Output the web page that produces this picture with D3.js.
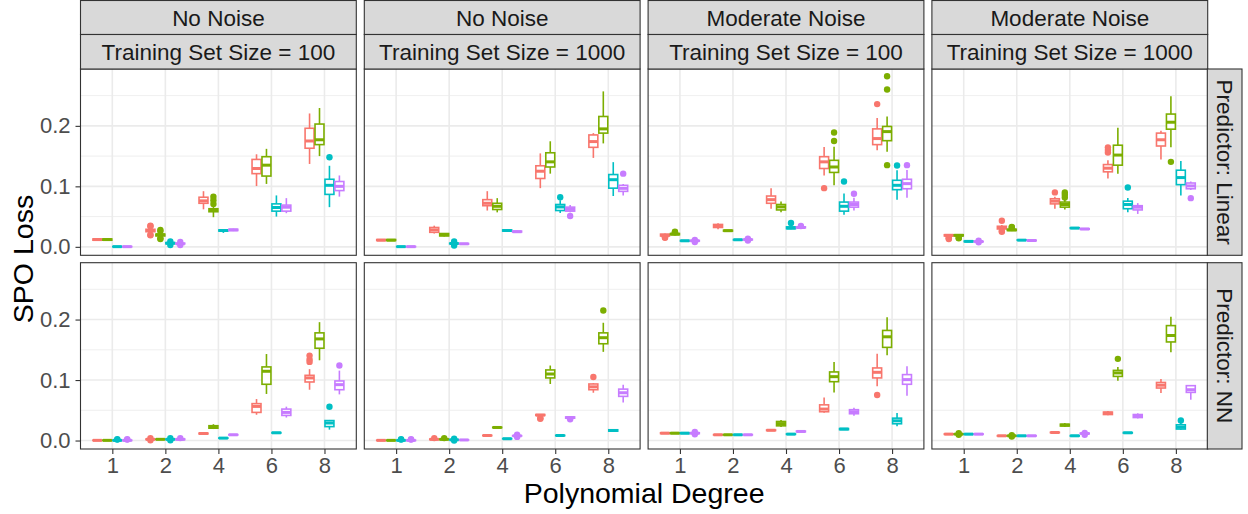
<!DOCTYPE html>
<html><head><meta charset="utf-8">
<script src="https://cdn.jsdelivr.net/npm/d3@7"></script>
<style>body{margin:0;background:#fff} text{font-family:"Liberation Sans",Arial,sans-serif}</style>
</head><body><svg id="c" width="1248" height="514"></svg>
<script>
// ---- data ----
const degrees = ["1", "2", "4", "6", "8"];
const methods = ["Method A", "Method B", "Method C", "Method D"];
const methodColors = ["#F8766D", "#7CAE00", "#00BFC4", "#C77CFF"];
const noiseLabels = ["No Noise", "No Noise", "Moderate Noise", "Moderate Noise"];
const sizeLabels = ["Training Set Size = 100", "Training Set Size = 1000", "Training Set Size = 100", "Training Set Size = 1000"];
const predictorLabels = ["Predictor: Linear", "Predictor: NN"];
const yTicks = [0, 0.1, 0.2];
const yMinorTicks = [0.05, 0.15, 0.25];
// each box: [lowerWhisker, q1, median, q3, upperWhisker, outliers]
const linearNoNoise100 = [
  [[0.011,0.011,0.012,0.013,0.013,[]],[0.011,0.011,0.012,0.013,0.013,[]],[0,0,0.0003,0.0006,0.001,[]],[0,0,0.0003,0.0006,0.001,[]]],
  [[0.022,0.025,0.027,0.029,0.032,[0.035,0.034,0.019,0.02]],[0.016,0.018,0.02,0.021,0.024,[0.028,0.026,0.013,0.014]],[0.004,0.005,0.006,0.007,0.008,[0.009,0.003]],[0.004,0.005,0.005,0.006,0.007,[0.008,0.003]]],
  [[0.062,0.072,0.076,0.082,0.092,[]],[0.049,0.058,0.061,0.063,0.067,[0.083,0.077,0.071]],[0.023,0.026,0.027,0.028,0.029,[]],[0.026,0.027,0.028,0.029,0.030,[]]],
  [[0.1005,0.121,0.1295,0.1445,0.153,[]],[0.104,0.117,0.135,0.149,0.162,[]],[0.05,0.059,0.065,0.071,0.085,[]],[0.0556,0.059,0.0655,0.069,0.0805,[]]],
  [[0.137,0.163,0.175,0.196,0.2205,[]],[0.15,0.169,0.177,0.203,0.2295,[]],[0.0656,0.0867,0.1017,0.1117,0.134,[0.148]],[0.083,0.093,0.1,0.108,0.118,[]]]
];
const linearNoNoise1000 = [
  [[0.0105,0.0105,0.011,0.012,0.012,[]],[0.0105,0.0105,0.011,0.012,0.012,[]],[0,0,0.0003,0.0006,0.001,[]],[0,0,0.0003,0.0006,0.001,[]]],
  [[0.022,0.024,0.028,0.032,0.035,[]],[0.017,0.018,0.02,0.022,0.023,[]],[0.004,0.005,0.0055,0.006,0.007,[0.009,0.002]],[0.004,0.0045,0.005,0.0055,0.006,[]]],
  [[0.06,0.068,0.072,0.078,0.092,[]],[0.057,0.0617,0.067,0.072,0.0805,[]],[0.025,0.026,0.027,0.028,0.029,[]],[0.024,0.0245,0.025,0.026,0.0265,[]]],
  [[0.097,0.113,0.125,0.134,0.1545,[]],[0.121,0.132,0.1405,0.1555,0.1745,[]],[0.056,0.06,0.066,0.07,0.077,[0.082]],[0.057,0.059,0.062,0.0656,0.069,[0.051]]],
  [[0.147,0.1645,0.174,0.185,0.188,[]],[0.171,0.188,0.195,0.2155,0.257,[]],[0.084,0.097,0.111,0.1195,0.14,[]],[0.085,0.0917,0.0967,0.1017,0.104,[0.121]]]
];
const linearModerate100 = [
  [[0.017,0.018,0.019,0.021,0.022,[0.015,0.016]],[0.019,0.02,0.021,0.022,0.023,[0.024,0.025]],[0.009,0.0095,0.01,0.0105,0.011,[]],[0.009,0.0095,0.01,0.0105,0.011,[0.0115,0.008]]],
  [[0.029,0.032,0.0345,0.037,0.039,[]],[0.025,0.026,0.0267,0.0275,0.028,[]],[0.011,0.0113,0.0117,0.012,0.0123,[]],[0.011,0.0115,0.012,0.0125,0.013,[0.0135,0.0105]]],
  [[0.063,0.072,0.078,0.084,0.0967,[]],[0.057,0.061,0.066,0.07,0.075,[]],[0.029,0.03,0.031,0.033,0.034,[0.0395]],[0.031,0.0315,0.032,0.033,0.0335,[0.0345]]],
  [[0.118,0.1295,0.1405,0.149,0.165,[0.097]],[0.102,0.123,0.132,0.143,0.1655,[0.189,0.175]],[0.053,0.059,0.067,0.074,0.088,[0.108]],[0.06,0.0656,0.07,0.074,0.081,[0.0877]]],
  [[0.1595,0.169,0.179,0.195,0.213,[0.236]],[0.157,0.1755,0.1905,0.199,0.2155,[0.282,0.26,0.135]],[0.078,0.0945,0.1017,0.11,0.1267,[0.1345]],[0.081,0.096,0.1045,0.1117,0.127,[0.135]]]
];
const linearModerate1000 = [
  [[0.017,0.018,0.019,0.02,0.021,[0.014,0.013,0.015]],[0.017,0.018,0.019,0.02,0.021,[0.015,0.014]],[0.008,0.0085,0.009,0.0095,0.01,[]],[0.008,0.0083,0.0087,0.009,0.0095,[0.0075,0.01]]],
  [[0.028,0.0295,0.032,0.034,0.036,[0.043,0.026,0.025]],[0.026,0.027,0.028,0.029,0.03,[0.032,0.033]],[0.0105,0.011,0.011,0.0115,0.012,[]],[0.0095,0.01,0.0105,0.011,0.0115,[]]],
  [[0.063,0.071,0.0755,0.0795,0.083,[0.09]],[0.0617,0.0656,0.07,0.074,0.078,[0.09,0.086,0.0815]],[0.03,0.0305,0.031,0.0315,0.032,[]],[0.028,0.029,0.0295,0.03,0.031,[]]],
  [[0.113,0.124,0.13,0.136,0.143,[0.1645,0.16,0.156]],[0.121,0.135,0.1517,0.168,0.197,[]],[0.057,0.063,0.07,0.0755,0.0806,[0.098]],[0.0544,0.061,0.0655,0.068,0.0723,[]]],
  [[0.1445,0.1667,0.177,0.188,0.192,[]],[0.1645,0.1945,0.206,0.2195,0.249,[0.1405]],[0.085,0.1028,0.1145,0.1267,0.142,[]],[0.094,0.096,0.1007,0.1055,0.108,[0.0805]]]
];
const nnNoNoise100 = [
  [[0,0,0.0003,0.0006,0.001,[]],[0,0,0.0003,0.0006,0.001,[]],[0,0,0.0003,0.0006,0.001,[0.0015,0.002]],[0,0,0.0003,0.0006,0.001,[0.0015,0.002]]],
  [[0.001,0.0015,0.002,0.0025,0.003,[0.004,0.0005]],[0.0015,0.0018,0.002,0.0022,0.0025,[]],[0.001,0.0015,0.002,0.0025,0.003,[0.004,0.0005]],[0.001,0.0015,0.002,0.0025,0.003,[0.004]]],
  [[0.0105,0.011,0.0116,0.0122,0.0128,[]],[0.019,0.0204,0.022,0.0245,0.027,[]],[0.0035,0.0038,0.004,0.0043,0.0046,[]],[0.0088,0.0092,0.0095,0.0098,0.0102,[]]],
  [[0.0426,0.0465,0.0564,0.061,0.0686,[]],[0.077,0.093,0.1145,0.1217,0.143,[]],[0.012,0.0124,0.0128,0.0132,0.0136,[]],[0.038,0.0415,0.0465,0.052,0.056,[]]],
  [[0.084,0.0968,0.1035,0.1078,0.118,[0.1404,0.134,0.13]],[0.1327,0.1526,0.168,0.178,0.1957,[]],[0.018,0.023,0.029,0.033,0.034,[0.0559]],[0.0763,0.084,0.0924,0.0985,0.1156,[0.124]]]
];
const nnNoNoise1000 = [
  [[0,0,0.0003,0.0006,0.001,[]],[0,0,0.0003,0.0006,0.001,[]],[0,0,0.0003,0.0006,0.001,[0.0015,0.002]],[0,0,0.0003,0.0006,0.001,[0.0015,0.002]]],
  [[0.001,0.0015,0.002,0.0025,0.003,[0.004]],[0.001,0.0015,0.002,0.0025,0.003,[0.004]],[0.0005,0.001,0.0012,0.0015,0.002,[0.003,0]],[0.0007,0.0009,0.001,0.0011,0.0013,[]]],
  [[0.0075,0.008,0.0083,0.0086,0.009,[]],[0.021,0.0212,0.0216,0.022,0.0225,[]],[0.0025,0.0028,0.003,0.0032,0.0035,[]],[0.007,0.0075,0.0078,0.008,0.0085,[0.0095,0.006]]],
  [[0.041,0.0415,0.042,0.043,0.0435,[0.037,0.036]],[0.0935,0.1035,0.11,0.1167,0.124,[]],[0.0078,0.008,0.0083,0.0086,0.0088,[]],[0.036,0.037,0.038,0.039,0.04,[0.035]]],
  [[0.079,0.084,0.0888,0.0935,0.095,[0.105]],[0.1466,0.16,0.17,0.178,0.1947,[0.215]],[0.015,0.0155,0.0166,0.0178,0.018,[]],[0.063,0.073,0.079,0.085,0.0924,[]]]
];
const nnModerate100 = [
  [[0.011,0.0115,0.0122,0.0128,0.013,[]],[0.011,0.0115,0.0122,0.0128,0.013,[]],[0.011,0.0115,0.0122,0.0128,0.013,[]],[0.011,0.0115,0.0122,0.0128,0.013,[0.0105,0.014]]],
  [[0.009,0.0092,0.0095,0.0098,0.01,[]],[0.009,0.0092,0.0095,0.0098,0.01,[]],[0.009,0.0092,0.0095,0.0098,0.01,[]],[0.009,0.0092,0.0095,0.0098,0.01,[]]],
  [[0.016,0.0165,0.017,0.0175,0.018,[]],[0.0225,0.0243,0.028,0.0315,0.034,[]],[0.0098,0.0102,0.0106,0.011,0.0114,[]],[0.0138,0.0144,0.015,0.0156,0.0162,[]]],
  [[0.046,0.0476,0.052,0.059,0.0713,[]],[0.0796,0.0973,0.1056,0.1134,0.13,[]],[0.0175,0.018,0.019,0.0198,0.0205,[]],[0.041,0.0443,0.0476,0.051,0.054,[]]],
  [[0.0896,0.1035,0.1128,0.12,0.1433,[0.0753]],[0.141,0.154,0.1715,0.182,0.204,[]],[0.0235,0.0277,0.0326,0.037,0.0454,[]],[0.074,0.093,0.1007,0.109,0.1227,[]]]
];
const nnModerate1000 = [
  [[0.0098,0.0102,0.0106,0.011,0.0114,[]],[0.0098,0.0102,0.0106,0.011,0.0114,[0.0095,0.012]],[0.0098,0.0102,0.0106,0.011,0.0114,[]],[0.0098,0.0102,0.0106,0.011,0.0114,[]]],
  [[0.0072,0.0075,0.0078,0.0081,0.0084,[]],[0.0072,0.0075,0.0078,0.0081,0.0084,[0.0065,0.009]],[0.0072,0.0075,0.0078,0.0081,0.0084,[]],[0.0072,0.0075,0.0078,0.0081,0.0084,[]]],
  [[0.0125,0.013,0.0133,0.0136,0.014,[]],[0.0225,0.024,0.0255,0.027,0.029,[]],[0.007,0.0074,0.0078,0.0082,0.0086,[]],[0.0105,0.011,0.0116,0.0122,0.013,[0.0095,0.0125]]],
  [[0.042,0.043,0.0454,0.047,0.049,[]],[0.099,0.106,0.1118,0.116,0.1217,[0.135]],[0.012,0.0124,0.0128,0.0132,0.0136,[]],[0.0365,0.038,0.041,0.043,0.045,[]]],
  [[0.0786,0.0868,0.0915,0.096,0.1018,[]],[0.146,0.163,0.1736,0.19,0.2046,[]],[0.018,0.019,0.022,0.026,0.029,[0.033]],[0.0675,0.0796,0.084,0.0907,0.0915,[]]]
];
const panelData = [
  [linearNoNoise100, linearNoNoise1000, linearModerate100, linearModerate1000],
  [nnNoNoise100, nnNoNoise1000, nnModerate100, nnModerate1000]
];

// ---- layout ----
const svg = d3.select("#c");
const PX0 = 80.5, PW = 275.8, PSTEP = 283.8;
const rowsY = [[69, 255.3], [262.7, 449]];
const stripY = [[0.5, 34.5], [34.5, 69]];
const stripX = [1207.3, 1242];
const border = "#333333", grid = "#EBEBEB", stripFill = "#D9D9D9";
const tickCol = "#4D4D4D";

for (let r = 0; r < 2; r++) {
  const [yTop, yBot] = rowsY[r];
  const y = d3.scaleLinear().domain([-0.014, 0.294]).range([yBot, yTop]);
  for (let c = 0; c < 4; c++) {
    const x0 = PX0 + c * PSTEP;
    const x = d3.scalePoint().domain(degrees).range([x0, x0 + PW]).padding(0.6);
    const step = x.step();
    const dodge = d3.scaleBand().domain(methods).range([-0.375 * step, 0.375 * step]);
    const bw = dodge.bandwidth() * 0.9;
    const g = svg.append("g");
    g.append("rect").attr("x", x0).attr("y", yTop).attr("width", PW).attr("height", yBot - yTop).attr("fill", "#fff");
    g.selectAll(".mn").data(yMinorTicks).join("line")
      .attr("x1", x0).attr("x2", x0 + PW).attr("y1", d => y(d)).attr("y2", d => y(d))
      .attr("stroke", grid).attr("stroke-width", 0.8);
    g.selectAll(".mj").data(yTicks).join("line")
      .attr("x1", x0).attr("x2", x0 + PW).attr("y1", d => y(d)).attr("y2", d => y(d))
      .attr("stroke", grid).attr("stroke-width", 1.6);
    g.selectAll(".vx").data(degrees).join("line")
      .attr("x1", d => x(d)).attr("x2", d => x(d)).attr("y1", yTop).attr("y2", yBot)
      .attr("stroke", grid).attr("stroke-width", 1.6);
    const data = panelData[r][c];
    degrees.forEach((deg, di) => {
      methods.forEach((m, mi) => {
        const [lo, q1, med, q3, hi, outs] = data[di][mi];
        const cx = x(deg) + dodge(m) + dodge.bandwidth() / 2;
        const col = methodColors[mi];
        const bg = g.append("g");
        bg.append("line").attr("x1", cx).attr("x2", cx).attr("y1", y(q3)).attr("y2", y(hi)).attr("stroke", col).attr("stroke-width", 1.6);
        bg.append("line").attr("x1", cx).attr("x2", cx).attr("y1", y(q1)).attr("y2", y(lo)).attr("stroke", col).attr("stroke-width", 1.6);
        bg.append("rect").attr("x", cx - bw / 2).attr("width", bw)
          .attr("y", y(q3)).attr("height", Math.max(0.01, y(q1) - y(q3)))
          .attr("fill", "#fff").attr("stroke", col).attr("stroke-width", 1.6);
        bg.append("line").attr("x1", cx - bw / 2).attr("x2", cx + bw / 2).attr("y1", y(med)).attr("y2", y(med)).attr("stroke", col).attr("stroke-width", 3);
        bg.selectAll("circle").data(outs).join("circle")
          .attr("cx", cx).attr("cy", d => y(d)).attr("r", 3.2).attr("fill", col);
      });
    });
    g.append("rect").attr("x", x0).attr("y", yTop).attr("width", PW).attr("height", yBot - yTop)
      .attr("fill", "none").attr("stroke", border).attr("stroke-width", 1.1);

    if (c === 0) {
      const ax = svg.append("g").attr("transform", `translate(${x0},0)`)
        .call(d3.axisLeft(y).tickValues(yTicks).tickFormat(d3.format(".1f")).tickSize(5).tickPadding(5));
      ax.select(".domain").remove();
      ax.selectAll("line").attr("stroke", border).attr("stroke-width", 1.1);
      ax.selectAll("text").attr("fill", tickCol).style("font-size", "22px").style("font-family", '"Liberation Sans",Arial,sans-serif');
    }
    if (r === 1) {
      const ax = svg.append("g").attr("transform", `translate(0,${yBot})`)
        .call(d3.axisBottom(x).tickSize(5).tickPadding(3));
      ax.select(".domain").remove();
      ax.selectAll("line").attr("stroke", border).attr("stroke-width", 1.1);
      ax.selectAll("text").attr("fill", tickCol).style("font-size", "22px").style("font-family", '"Liberation Sans",Arial,sans-serif');
    }
    if (r === 0) {
      [noiseLabels[c], sizeLabels[c]].forEach((lab, si) => {
        const [sy0, sy1] = stripY[si];
        svg.append("rect").attr("x", x0).attr("y", sy0).attr("width", PW).attr("height", sy1 - sy0)
          .attr("fill", stripFill).attr("stroke", border).attr("stroke-width", 1.1);
        svg.append("text").attr("x", x0 + PW / 2).attr("y", (sy0 + sy1) / 2).attr("dy", "0.36em")
          .attr("text-anchor", "middle").attr("fill", "#1A1A1A").style("font-size", "22.5px").text(lab);
      });
    }
  }
  svg.append("rect").attr("x", stripX[0]).attr("y", yTop).attr("width", stripX[1] - stripX[0]).attr("height", yBot - yTop)
    .attr("fill", stripFill).attr("stroke", border).attr("stroke-width", 1.1);
  const cx = (stripX[0] + stripX[1]) / 2, cy = (yTop + yBot) / 2;
  svg.append("text").attr("transform", `translate(${cx},${cy}) rotate(90)`).attr("dy", "0.36em")
    .attr("text-anchor", "middle").attr("fill", "#1A1A1A").style("font-size", "22.5px").text(predictorLabels[r]);
}
svg.append("text").attr("x", (PX0 + PX0 + 3 * PSTEP + PW) / 2).attr("y", 503).attr("text-anchor", "middle")
  .attr("fill", "#000").style("font-size", "28.5px").text("Polynomial Degree");
svg.append("text").attr("transform", `translate(32.5,${(69 + 449) / 2}) rotate(-90)`).attr("text-anchor", "middle")
  .attr("fill", "#000").style("font-size", "28.5px").text("SPO Loss");
</script>
</body></html>
